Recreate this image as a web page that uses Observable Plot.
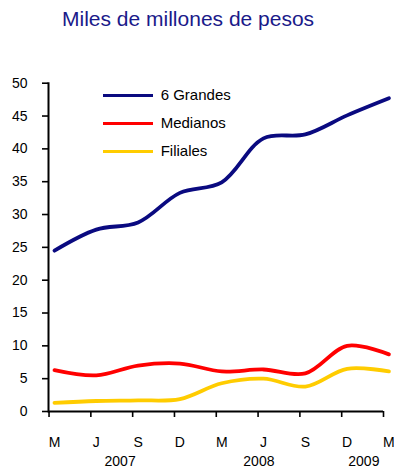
<!DOCTYPE html>
<html>
<head>
<meta charset="utf-8">
<script src="https://cdn.jsdelivr.net/npm/d3@7"></script>
<script src="https://cdn.jsdelivr.net/npm/@observablehq/plot@0.6"></script>
<style>
  html, body { margin: 0; padding: 0; background: #fff; }
  body { width: 394px; height: 471px; overflow: hidden; font-family: "Liberation Sans", Arial, sans-serif; }
  #wrap { position: relative; width: 394px; height: 471px; }
  #title { position: absolute; left: 62px; top: 6px; font-size: 21px; line-height: 25px; color: #1a1a8a; white-space: nowrap; }
  #chart { position: absolute; left: 0; top: 40px; }
  .leg { position: absolute; left: 103px; font-size: 15px; color: #000; }
  .leg .sw { position: absolute; left: 0; width: 50px; height: 2.5px; }
  .leg .lb { position: absolute; left: 57.7px; white-space: nowrap; line-height: 18px; top: -9.5px; }
</style>
</head>
<body>
<div id="wrap">
  <div id="title">Miles de millones de pesos</div>
  <div id="chart"></div>
  <div id="legend"></div>
</div>
<script>
// Quarter labels (March, June, September, December)
const months = ["M", "J", "S", "D", "M", "J", "S", "D", "M"];
const years = ["2007", "2008", "2009"];
const yearPos = [1.57, 4.89, 7.40];
const yTicks = [0, 5, 10, 15, 20, 25, 30, 35, 40, 45, 50];

const seriesNames = ["6 Grandes", "Medianos", "Filiales"];
const seriesColors = ["#0a0a80", "#ff0000", "#ffcc00"];

const grandes  = [24.5, 27.7, 28.8, 33.3, 34.9, 41.6, 42.2, 45.1, 47.7];
const medianos = [6.3, 5.5, 7.0, 7.3, 6.1, 6.4, 5.8, 10.0, 8.7];
const filiales = [1.3, 1.6, 1.7, 1.9, 4.3, 5.0, 3.8, 6.5, 6.1];

const seriesValues = [grandes, medianos, filiales];
const tickPos = months.map((m, i) => i - 0.13);

const lines = seriesValues.map((vals, s) =>
  Plot.line(vals.map((v, i) => ({i, v})), {
    x: "i", y: "v", stroke: seriesColors[s], strokeWidth: 3.8, curve: "catmull-rom"
  })
);

const chart = Plot.plot({
  width: 394,
  height: 431,
  marginLeft: 48,
  marginRight: 11,
  marginTop: 42.7,
  marginBottom: 60,
  style: { fontFamily: "'Liberation Sans', Arial, sans-serif", color: "#000", background: "transparent", overflow: "visible" },
  x: { type: "linear", domain: [-0.143, 7.87], axis: null },
  y: { domain: [0, 50], axis: null },
  marks: [
    Plot.axisY(yTicks, { label: null, tickSize: 6, tickPadding: 15, fontSize: 14, tickFormat: d => d, stroke: "#000", strokeWidth: 1.6, fill: "#000" }),
    Plot.frame({ anchor: "left", stroke: "#000", strokeWidth: 2 }),
    Plot.ruleY([0], { stroke: "#000", strokeWidth: 2 }),
    Plot.ruleX(tickPos, { y1: 0, y2: 0, insetBottom: -6, stroke: "#000", strokeWidth: 1.6 }),
    Plot.text(months, { x: (d, i) => i, frameAnchor: "bottom", dy: 35.5, text: d => d, fontSize: 14, fill: "#000" }),
    Plot.text(years, { x: (d, i) => yearPos[i], frameAnchor: "bottom", dy: 54, text: d => d, fontSize: 14, fill: "#000" }),
    ...lines
  ]
});
document.getElementById("chart").appendChild(chart);

// Legend
const legTops = [95.7, 123.3, 151.7];
const legend = document.getElementById("legend");
seriesNames.forEach((name, s) => {
  const row = document.createElement("div");
  row.className = "leg";
  row.style.top = legTops[s] + "px";
  const sw = document.createElement("div");
  sw.className = "sw";
  sw.style.background = seriesColors[s];
  sw.style.top = "-1.25px";
  const lb = document.createElement("div");
  lb.className = "lb";
  lb.textContent = name;
  row.appendChild(sw);
  row.appendChild(lb);
  legend.appendChild(row);
});
</script>
</body>
</html>
